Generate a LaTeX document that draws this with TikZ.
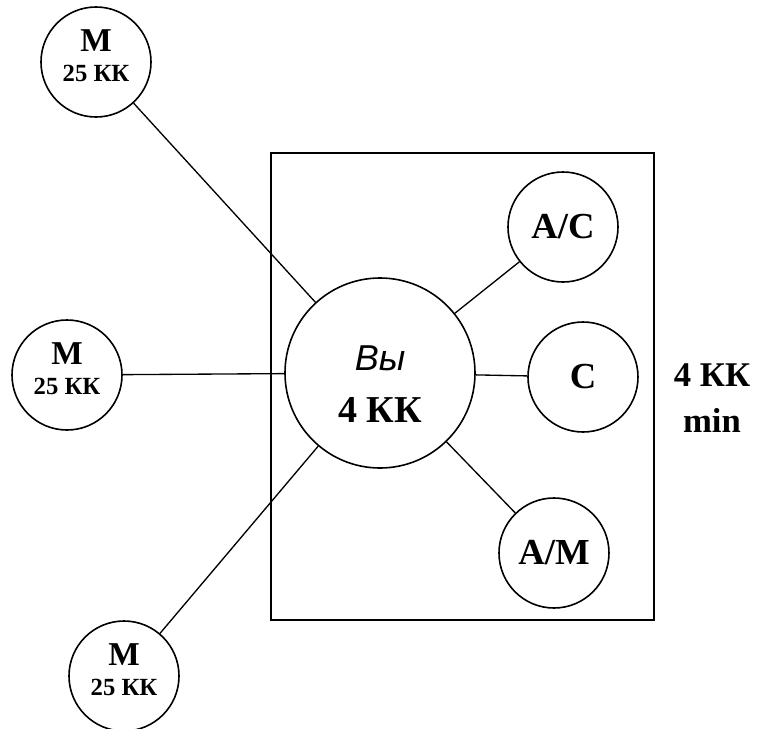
\documentclass[tikz,border=0pt]{standalone}
\usepackage{fontspec}
\setmainfont{Liberation Serif}
\newfontfamily\vyfont{Liberation Sans}

\begin{document}
\begin{tikzpicture}[x=0.75pt,y=-0.75pt,site/.style={circle,draw,line width=1.2pt,fill=white,minimum size=82.5pt,inner sep=0pt,align=center,font=\bfseries\fontsize{27.5}{30}\selectfont},msite/.style={site,text depth=10pt,font=\bfseries\fontsize{25}{22.5}\selectfont},hub/.style={circle,draw,line width=1.2pt,fill=white,minimum size=142.5pt,inner sep=0pt},link/.style={line width=1pt},frame/.style={line width=1.4pt}]
\useasboundingbox (0,0) rectangle (758,729);
\draw[frame] (271,153) rectangle (654,620);
\node[hub] (vy) at (380,373) {};
\node[align=center,font=\bfseries\fontsize{28.5}{39}\selectfont] (vytext) at (380,384) {{\vyfont\mdseries\itshape\fontsize{27}{30}\selectfont Вы}\\4 КК};
\node[site] (ac) at (563,227) {А/С};
\node[site] (c) at (583,377) {С};
\node[site] (am) at (554,553) {А/М};
\node[msite] (mtop) at (96,62) {М\\{\fontsize{18.5}{22.5}\selectfont 25 КК}};
\node[msite] (mmid) at (67,375) {М\\{\fontsize{18.5}{22.5}\selectfont 25 КК}};
\node[msite] (mbot) at (124,676) {М\\{\fontsize{18.5}{22.5}\selectfont 25 КК}};
\draw[link] (mtop) -- (vy);
\draw[link] (mmid) -- (vy);
\draw[link] (mbot) -- (vy);
\draw[link] (vy) -- (ac);
\draw[link] (vy) -- (c);
\draw[link] (vy) -- (am);
\node[align=center,font=\bfseries\fontsize{26}{35}\selectfont] (minlabel) at (712,398) {4 КК\\min};
\end{tikzpicture}
\end{document}
